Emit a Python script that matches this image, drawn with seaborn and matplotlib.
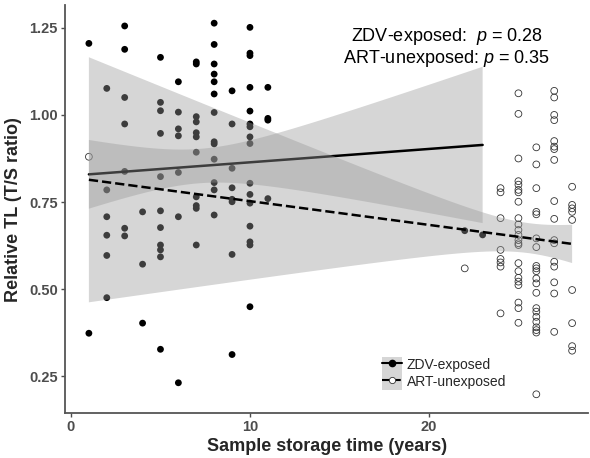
import numpy as np
import pandas as pd
import matplotlib
matplotlib.use("Agg")
import matplotlib.pyplot as plt
import seaborn as sns
from matplotlib.lines import Line2D
from matplotlib.patches import Patch

# --- data ---
# ZDV-exposed (filled dots)
zdv_years = [1, 1,
             2, 2, 2, 2, 2, 2,
             3, 3, 3, 3, 3, 3, 3,
             4, 4, 4,
             5, 5, 5, 5, 5, 5, 5, 5, 5, 5, 5,
             6, 6, 6, 6, 6, 6, 6,
             7, 7, 7, 7, 7, 7, 7, 7, 7, 7, 7,
             8, 8, 8, 8, 8, 8, 8, 8, 8, 8, 8, 8, 8,
             9, 9, 9, 9, 9, 9, 9, 9,
             10, 10, 10, 10, 10, 10, 10, 10, 10, 10, 10, 10, 10, 10, 10, 10,
             11, 11, 11, 11,
             22, 23]
zdv_tl = [1.205, 0.374,
          1.076, 0.785, 0.708, 0.655, 0.597, 0.476,
          1.255, 1.188, 1.050, 0.974, 0.838, 0.675, 0.653,
          0.722, 0.572, 0.403,
          1.165, 1.036, 1.012, 0.947, 0.823, 0.725, 0.677, 0.627, 0.613, 0.593, 0.328,
          1.095, 1.008, 0.960, 0.940, 0.835, 0.708, 0.232,
          1.152, 1.146, 0.995, 0.980, 0.949, 0.937, 0.893, 0.765, 0.740, 0.732, 0.627,
          1.263, 1.202, 1.146, 1.117, 1.095, 1.060, 1.007, 0.923, 0.917, 0.873, 0.806, 0.785, 0.713,
          1.069, 0.974, 0.847, 0.791, 0.758, 0.751, 0.600, 0.313,
          1.251, 1.177, 1.170, 1.079, 1.011, 0.974, 0.966, 0.937, 0.918, 0.804, 0.772, 0.747,
          0.681, 0.636, 0.627, 0.450,
          1.079, 0.990, 0.985, 0.760,
          0.668, 0.656]

# ART-unexposed (open circles)
art_years = [1, 22,
             24, 24, 24, 24, 24, 24, 24, 24,
             25, 25, 25, 25, 25, 25, 25, 25, 25, 25, 25, 25, 25, 25, 25, 25, 25, 25, 25, 25, 25, 25, 25,
             26, 26, 26, 26, 26, 26, 26, 26, 26, 26, 26, 26, 26, 26, 26, 26, 26, 26, 26, 26, 26,
             27, 27, 27, 27, 27, 27, 27, 27, 27, 27, 27, 27, 27, 27, 27, 27, 27,
             28, 28, 28, 28, 28, 28, 28, 28, 28]
art_tl = [0.880, 0.560,
          0.790, 0.778, 0.704, 0.613, 0.587, 0.577, 0.565, 0.431,
          1.062, 1.003, 0.875, 0.810, 0.800, 0.785, 0.778, 0.751, 0.704, 0.686, 0.670, 0.656,
          0.641, 0.632, 0.627, 0.575, 0.552, 0.533, 0.522, 0.512, 0.462, 0.446, 0.404,
          0.907, 0.858, 0.790, 0.722, 0.715, 0.646, 0.621, 0.567, 0.560, 0.552, 0.531, 0.517,
          0.490, 0.446, 0.436, 0.421, 0.407, 0.391, 0.383, 0.376, 0.199,
          1.069, 1.050, 1.000, 0.985, 0.925, 0.909, 0.902, 0.871, 0.753, 0.702, 0.641, 0.632,
          0.579, 0.565, 0.520, 0.488, 0.378,
          0.794, 0.742, 0.732, 0.722, 0.699, 0.498, 0.403, 0.337, 0.324]

p_labels = ["ZDV-exposed:  $p$ = 0.28", "ART-unexposed: $p$ = 0.35"]
group_names = ["ZDV-exposed", "ART-unexposed"]


def lm_band(x, y, grid, t=1.99):
    # ordinary least squares fit with 95% confidence band (as geom_smooth(method="lm"))
    x = np.asarray(x, float)
    y = np.asarray(y, float)
    b, a = np.polyfit(x, y, 1)
    resid = y - (a + b * x)
    s = np.sqrt(np.sum(resid ** 2) / (len(x) - 2))
    sxx = np.sum((x - x.mean()) ** 2)
    se = s * np.sqrt(1 / len(x) + (grid - x.mean()) ** 2 / sxx)
    fit = a + b * grid
    return fit - t * se, fit + t * se


# --- style ---
sns.set_theme(style="white")
plt.rcParams["font.family"] = ["Liberation Sans", "DejaVu Sans"]
plt.rcParams["mathtext.fontset"] = "custom"
plt.rcParams["mathtext.it"] = "Liberation Sans:italic"
plt.rcParams["mathtext.rm"] = "Liberation Sans"

fig, ax = plt.subplots(figsize=(5.9, 4.58), dpi=100)
fig.subplots_adjust(left=0.110, right=0.997, bottom=0.098, top=0.989)

# points first, ribbons go on top (like ggplot)
sns.scatterplot(x=zdv_years, y=zdv_tl, color="black", s=24, edgecolor="none", ax=ax)
sns.scatterplot(x=art_years, y=art_tl, facecolor="none", edgecolor="0.2", linewidth=0.6,
                s=24, ax=ax)

for years, tl, ls in [(zdv_years, zdv_tl, "-"), (art_years, art_tl, "--")]:
    grid = np.linspace(min(years), max(years), 80)
    lo, hi = lm_band(years, tl, grid)
    ax.fill_between(grid, lo, hi, facecolor="#999999", alpha=0.4, edgecolor="none", zorder=1)
    sns.regplot(x=np.array(years, float), y=np.array(tl), scatter=False, ci=None,
                color="black", line_kws=dict(linestyle=ls, linewidth=1.8, zorder=1), ax=ax)

# p-value annotation
ax.text(21.0, 1.224, p_labels[0], ha="center", va="center", fontsize=13, color="black")
ax.text(21.0, 1.162, p_labels[1], ha="center", va="center", fontsize=13, color="black")

# axes
ax.set_xlim(-0.34, 28.9)
ax.set_ylim(0.145, 1.315)
ax.set_xticks([0, 10, 20])
ax.set_yticks([0.25, 0.50, 0.75, 1.00, 1.25])
ax.set_yticklabels(["0.25", "0.50", "0.75", "1.00", "1.25"])
ax.tick_params(axis="both", length=3, width=1, color="#4d4d4d", labelcolor="#4d4d4d",
               labelsize=10.5, pad=2, bottom=True, left=True)
plt.setp(ax.get_xticklabels() + ax.get_yticklabels(), fontweight="bold")
sns.despine(ax=ax)
for side in ["left", "bottom"]:
    ax.spines[side].set_color("#555555")
    ax.spines[side].set_linewidth(1.3)
ax.set_xlabel("Sample storage time (years)", fontsize=13, fontweight="bold", labelpad=3)
ax.set_ylabel("Relative TL (T/S ratio)", fontsize=13, fontweight="bold", labelpad=5)

# legend with grey key background
band = "#d6d6d6"
handles = [
    (Patch(facecolor=band, edgecolor="none"),
     Line2D([], [], color="black", ls="-", lw=1.5, marker="o", ms=4.5)),
    (Patch(facecolor=band, edgecolor="none"),
     Line2D([], [], color="black", ls="--", lw=1.5, marker="o", ms=4.5,
            mfc="white", mec="0.2", mew=0.6)),
]
ax.legend(handles, group_names, loc="center left", bbox_to_anchor=(0.593, 0.098),
          frameon=False, fontsize=10, handlelength=1.45, handleheight=1.45,
          labelspacing=0, handletextpad=0.3, borderpad=0)

fig.savefig("out.png", dpi=100)
